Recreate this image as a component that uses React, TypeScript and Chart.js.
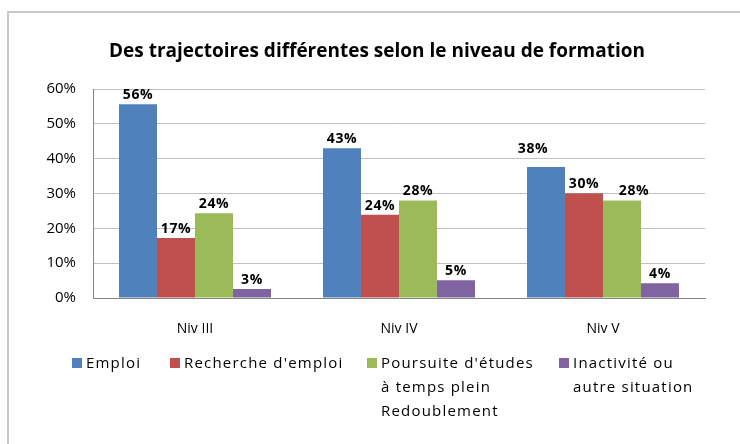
import React, { useEffect, useRef } from "react";
import { Chart, registerables } from "chart.js";

Chart.register(...registerables);

// ---- data ----
const TITLE = "Des trajectoires différentes selon le niveau de formation";
const categories = ["Niv III", "Niv IV", "Niv V"];
const emploi = [55.6, 43.0, 37.6];
const recherche = [17.2, 23.9, 30.1];
const poursuite = [24.3, 28.0, 28.0];
const inactivite = [2.6, 5.1, 4.2];
const seriesLabels = [
  ["Emploi"],
  ["Recherche d'emploi"],
  ["Poursuite d'études", "à temps plein", "Redoublement"],
  ["Inactivité ou", "autre situation"],
];
const yMax = 60;
const yStep = 10;

// ---- style ----
const COLORS = ["#4f81bd", "#c0504d", "#9bbb59", "#8064a2"];
const FONT = "'Open Sans', 'Liberation Sans', sans-serif";
const LEGEND_X = [72, 170, 367, 559];
const LEGEND_Y = 364;
const LEGEND_LINE = 24;
// manual label nudges (dataset, index) -> [dx, dy]
const LABEL_NUDGE: Record<string, [number, number]> = {
  "0-2": [-13, -9],
  "2-2": [12, 0],
};

const drawPlugin = {
  id: "customDraw",
  beforeDraw(chart: any) {
    const ctx = chart.ctx;
    ctx.save();
    ctx.fillStyle = "#ffffff";
    ctx.fillRect(0, 0, chart.width, chart.height);
    ctx.strokeStyle = "#c8c8c8";
    ctx.lineWidth = 2;
    ctx.strokeRect(8, 12, chart.width + 20, chart.height + 20);
    ctx.restore();
  },
  afterDraw(chart: any) {
    const ctx = chart.ctx;
    ctx.save();
    // title
    ctx.fillStyle = "#000000";
    ctx.font = `bold 19px ${FONT}`;
    ctx.textAlign = "center";
    ctx.textBaseline = "middle";
    (ctx as any).letterSpacing = "0px";
    ctx.fillText(TITLE, 377, 52);

    // data labels
    ctx.font = `bold 14px ${FONT}`;
    (ctx as any).letterSpacing = "0.6px";
    chart.data.datasets.forEach((ds: any, di: number) => {
      const meta = chart.getDatasetMeta(di);
      meta.data.forEach((el: any, i: number) => {
        const v = ds.data[i];
        const nudge = LABEL_NUDGE[`${di}-${i}`] || [0, 0];
        ctx.fillText(`${Math.round(v)}%`, el.x + nudge[0], el.y - 9 + nudge[1]);
      });
    });

    // legend
    ctx.font = `15px ${FONT}`;
    (ctx as any).letterSpacing = "1.2px";
    ctx.textAlign = "left";
    seriesLabels.forEach((lines, i) => {
      const x = LEGEND_X[i];
      ctx.fillStyle = COLORS[i];
      ctx.fillRect(x, LEGEND_Y - 6, 10, 10);
      ctx.fillStyle = "#000000";
      lines.forEach((line, j) => {
        ctx.fillText(line, x + 14, LEGEND_Y + j * LEGEND_LINE);
      });
    });
    ctx.restore();
  },
};

export default function App() {
  const ref = useRef<HTMLCanvasElement | null>(null);
  useEffect(() => {
    if (!ref.current) return;
    const series = [emploi, recherche, poursuite, inactivite];
    const chart = new Chart(ref.current, {
      type: "bar",
      data: {
        labels: categories,
        datasets: series.map((d, i) => ({
          label: seriesLabels[i].join(" "),
          data: d,
          backgroundColor: COLORS[i],
          borderWidth: 0,
          categoryPercentage: 0.745,
          barPercentage: 1,
        })),
      },
      options: {
        responsive: false,
        animation: false,
        devicePixelRatio: 1,
        layout: { padding: { left: 0, top: 89, right: 35, bottom: 106 } },
        plugins: {
          legend: { display: false },
          title: { display: false },
          tooltip: { enabled: false },
        },
        scales: {
          x: {
            grid: { display: false },
            border: { color: "#868686", width: 1 },
            ticks: { color: "#000", font: { family: FONT, size: 14 }, padding: 15 },
            afterFit: (s: any) => {
              s.height = 40;
            },
          },
          y: {
            min: 0,
            max: yMax,
            ticks: {
              stepSize: yStep,
              color: "#000",
              font: { family: FONT, size: 15 },
              padding: 17,
              callback: (v: any) => `${v}%`,
            },
            grid: { color: "#c0c0c0", drawTicks: false },
            border: { color: "#868686", width: 1 },
            afterFit: (s: any) => {
              s.width = 93;
            },
          },
        },
      },
      plugins: [drawPlugin],
    });
    return () => chart.destroy();
  }, []);
  return (
    <div style={{ position: "absolute", left: 0, top: 0, width: 740, height: 444 }}>
      <canvas ref={ref} width={740} height={444} />
    </div>
  );
}
